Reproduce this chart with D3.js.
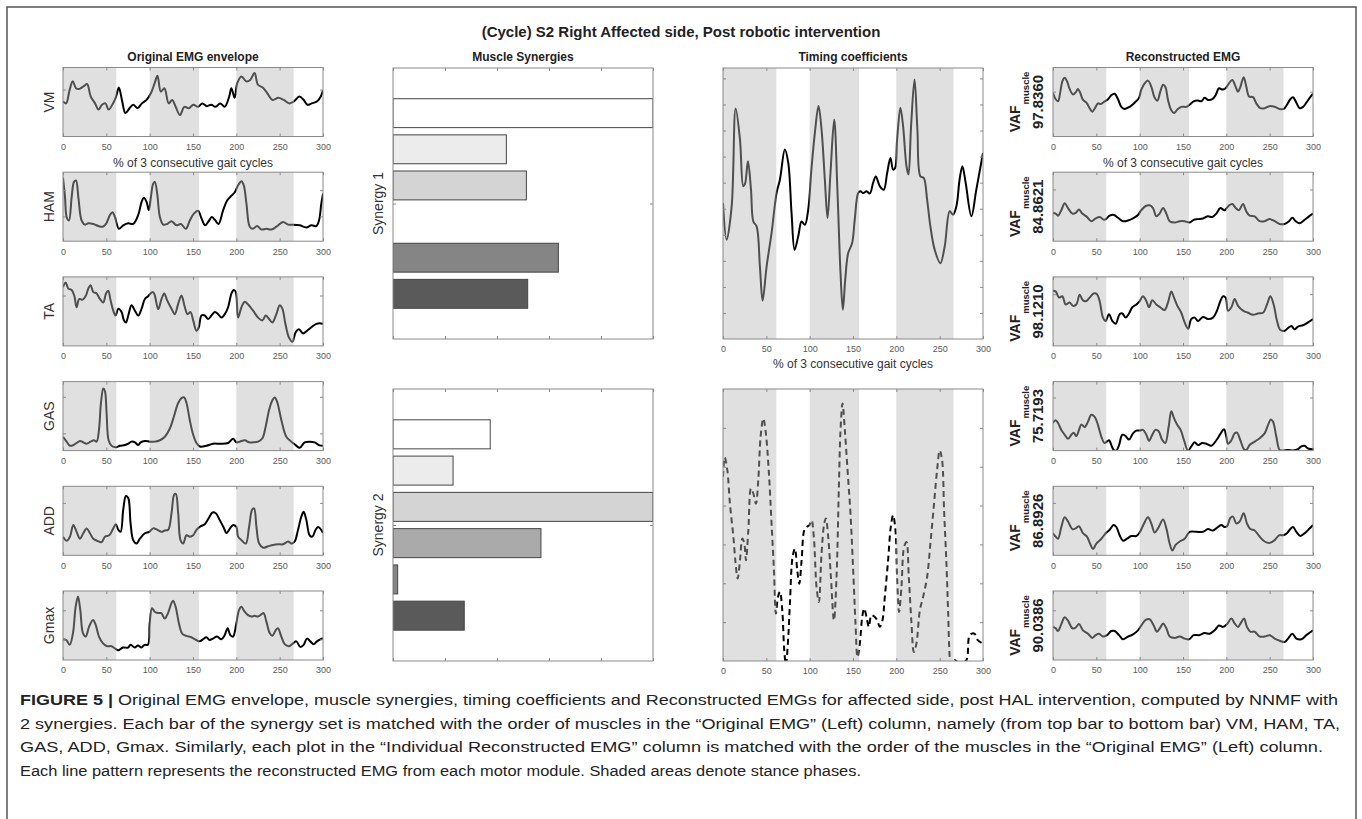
<!DOCTYPE html>
<html><head><meta charset="utf-8">
<script src="https://cdn.jsdelivr.net/npm/d3@7"></script>
<style>body{margin:0;background:#fff}svg{display:block}text{font-family:"Liberation Sans",Arial,sans-serif}</style>
</head><body><svg id="c" width="1362" height="819"></svg>
<script>
// ---------------- DATA ----------------
const mainTitle = "(Cycle) S2 Right Affected side, Post robotic intervention";
const columnTitles = ["Original EMG envelope","Muscle Synergies","Timing coefficients","Reconstructed EMG"];
const xAxisLabel = "% of 3 consecutive gait cycles";
const muscles = ["VM","HAM","TA","GAS","ADD","Gmax"];
const vafValues = ["97.8360","84.8621","98.1210","75.7193","86.8926","90.0386"];
const synergyLabels = ["Synergy 1","Synergy 2"];
const stancePhases = [[0,61.5],[100,157],[200,266]];
const xTicks = [0,50,100,150,200,250,300];
const synergyTicks = [0,0.2,0.4,0.6,0.8,1];
const synergy1 = [1.0,0.436,0.513,0,0.636,0.518];
const synergy2 = [0.374,0.231,1.0,0.569,0.018,0.274];
const barColors = ["#ffffff","#ececec","#d4d4d4","#aaaaaa","#858585","#5a5a5a"];
const origYTicks = [[0.68],[0.36,0.74],[0.73],[0.25,0.78],[0.76],[0.30,0.72]];
const reconYTicks = [[0.65],[0.75],[0.75],[0.77],[0.76],[0.72]];
const timing1Ticks = [1,2,3,4,5,6,7,8,9,10];
const timing2Ticks = [1,2,3,4,5,6];

const vmOriginal = [[0,0.51],[3.6,0.48],[7.7,0.68],[11.3,0.80],[15,0.70],[19,0.69],[24,0.73],[27.8,0.76],[32,0.58],[37,0.48],[41,0.39],[45,0.46],[49,0.48],[52.6,0.39],[57.7,0.48],[61.3,0.58],[64.4,0.71],[68,0.53],[72,0.34],[76.8,0.41],[81,0.46],[86,0.41],[91,0.48],[96.4,0.53],[101.5,0.63],[105.7,0.77],[109,0.88],[112.9,0.65],[117,0.70],[122,0.48],[126,0.53],[130,0.43],[135,0.31],[140,0.43],[145,0.41],[150.5,0.46],[155.7,0.43],[160.8,0.48],[166,0.44],[171,0.46],[176,0.43],[181.4,0.48],[186.6,0.43],[191.8,0.58],[194.3,0.70],[198,0.56],[201,0.77],[206,0.87],[211.3,0.80],[216,0.82],[221,0.92],[225,0.75],[230.4,0.71],[235.6,0.63],[241.8,0.53],[248.5,0.56],[254.6,0.53],[261.3,0.48],[266.5,0.51],[272.7,0.58],[277.8,0.53],[282,0.46],[287,0.48],[293.3,0.51],[297.4,0.58],[300,0.67]];
const hamOriginal = [[0,0.92],[2.3,0.64],[4.2,0.35],[6.9,0.30],[10,0.64],[12.7,0.86],[15,0.88],[17.7,0.64],[21.5,0.30],[25.4,0.24],[29.2,0.26],[35,0.25],[40.7,0.22],[45.7,0.21],[49.6,0.25],[54.2,0.38],[57.2,0.42],[60,0.35],[64.5,0.18],[69.5,0.23],[75.3,0.26],[81,0.25],[86.8,0.38],[90.7,0.57],[93.3,0.63],[96.4,0.57],[99,0.45],[101.4,0.64],[104,0.83],[106,0.86],[108.7,0.69],[111.8,0.35],[115.6,0.24],[120.2,0.25],[125.2,0.29],[131,0.23],[136,0.25],[141.7,0.18],[146.3,0.30],[151,0.40],[156,0.44],[159.8,0.33],[164,0.23],[168.6,0.30],[171.7,0.35],[175.2,0.31],[179.4,0.25],[184.8,0.45],[189.4,0.59],[194.4,0.66],[198.2,0.71],[202,0.81],[205.9,0.87],[208.6,0.81],[211.7,0.54],[215.5,0.21],[219.3,0.18],[223.9,0.22],[228.9,0.17],[234.7,0.18],[240.5,0.17],[246.2,0.21],[253.9,0.28],[259.7,0.24],[265.4,0.24],[273.1,0.23],[280.8,0.20],[286.6,0.23],[292.3,0.22],[295.4,0.30],[298,0.54],[300,0.69]];
const taOriginal = [[0,0.85],[3.1,0.92],[6.1,0.83],[10,0.81],[13,0.73],[15.7,0.56],[18.8,0.68],[22.7,0.67],[26.5,0.73],[29.2,0.83],[31.9,0.88],[35,0.78],[38.8,0.76],[42.6,0.68],[46.5,0.63],[49.6,0.76],[52.2,0.80],[54.9,0.66],[58,0.51],[60.7,0.44],[63.8,0.54],[67.6,0.49],[70.3,0.37],[72.6,0.34],[75.3,0.44],[79.1,0.59],[83,0.51],[86.8,0.44],[90.7,0.54],[94.5,0.68],[98.3,0.72],[101,0.76],[104,0.78],[106,0.73],[109.9,0.53],[113.7,0.68],[116.8,0.76],[120.2,0.66],[125.2,0.54],[129,0.46],[132.9,0.61],[136.7,0.73],[140.6,0.56],[143.7,0.46],[147.1,0.49],[150.2,0.37],[154,0.22],[156.7,0.27],[159.8,0.44],[163.6,0.44],[167.5,0.39],[171.3,0.44],[175.2,0.49],[179,0.46],[182.8,0.41],[186.7,0.46],[190.5,0.56],[194.4,0.76],[197.1,0.81],[199.4,0.78],[202,0.41],[205.9,0.56],[209.7,0.64],[213.6,0.60],[219.3,0.51],[225.1,0.41],[230.1,0.37],[233.9,0.44],[237.8,0.39],[241.6,0.34],[246.2,0.46],[250.1,0.59],[253.1,0.54],[256.6,0.32],[260.8,0.12],[264.7,0.06],[268.5,0.20],[272.3,0.24],[277,0.18],[281.6,0.22],[286.6,0.27],[292.3,0.32],[296.2,0.33],[300,0.32]];
const gasOriginal = [[0,0.20],[4.2,0.13],[8,0.07],[11.9,0.08],[15.7,0.11],[19.6,0.14],[23.4,0.12],[27.3,0.10],[31.9,0.13],[35.7,0.15],[38.8,0.13],[41.5,0.30],[43.8,0.69],[46.5,0.90],[48.4,0.86],[50.3,0.54],[52.6,0.15],[56,0.07],[61.8,0.05],[65.7,0.07],[71.4,0.08],[75.3,0.10],[79.1,0.13],[83,0.12],[86.8,0.08],[89.5,0.12],[94.5,0.14],[100.3,0.13],[106,0.13],[111.8,0.15],[117.5,0.20],[123.3,0.32],[127.9,0.49],[132.9,0.69],[136.7,0.76],[139.8,0.77],[142.5,0.69],[146.3,0.44],[150.2,0.23],[154,0.11],[157.9,0.06],[165.6,0.07],[173.2,0.10],[180.9,0.10],[190.5,0.11],[196.3,0.17],[200.1,0.12],[204,0.13],[209.7,0.15],[214.7,0.12],[219.3,0.12],[225.1,0.13],[230.1,0.18],[233.9,0.35],[237.8,0.59],[241.6,0.73],[244.3,0.77],[247,0.71],[252,0.44],[257.7,0.20],[263.5,0.13],[268.5,0.08],[273.1,0.04],[278.9,0.12],[284.6,0.13],[290.4,0.12],[295.4,0.08],[300,0.07]];
const addOriginal = [[0,0.27],[4.2,0.21],[8,0.27],[11.9,0.44],[15.7,0.34],[19.6,0.24],[23.4,0.32],[27.3,0.39],[31.1,0.32],[35,0.24],[39.6,0.21],[44.6,0.19],[48.4,0.27],[53.4,0.29],[58,0.39],[61,0.45],[63.8,0.37],[66.5,0.34],[69.5,0.66],[72.6,0.86],[75.3,0.83],[78,0.46],[81,0.22],[84.9,0.17],[88.7,0.24],[94.5,0.32],[99.5,0.34],[104,0.39],[108.7,0.37],[113.7,0.34],[117.5,0.36],[121.4,0.37],[125.2,0.61],[128.3,0.88],[130.2,0.89],[132.9,0.61],[135.6,0.22],[138.7,0.17],[142.5,0.29],[146.3,0.27],[150.2,0.29],[154,0.37],[158.6,0.42],[163.6,0.45],[168.2,0.54],[172.5,0.62],[176.3,0.61],[180.9,0.51],[185.5,0.40],[188.6,0.32],[191.7,0.37],[196.3,0.44],[200.1,0.41],[202,0.27],[205.9,0.22],[210.9,0.17],[214.7,0.41],[218.2,0.66],[220.5,0.68],[223.2,0.41],[226.3,0.17],[230.9,0.11],[236.6,0.13],[242.4,0.15],[248.1,0.16],[253.9,0.16],[259.7,0.20],[263.5,0.17],[267.3,0.20],[271.2,0.37],[275,0.56],[277.7,0.63],[280.8,0.51],[284.6,0.29],[287.7,0.27],[291.5,0.37],[294.2,0.41],[298,0.37],[300,0.32]];
const gmaxOriginal = [[0,0.30],[3.8,0.29],[7.7,0.22],[11.5,0.39],[14.6,0.77],[17.3,0.92],[20,0.72],[23,0.39],[26.2,0.34],[30,0.48],[34.6,0.58],[37.7,0.51],[41.5,0.34],[46.2,0.24],[50.8,0.20],[55.8,0.20],[59.6,0.17],[63.5,0.14],[69.2,0.18],[75,0.18],[78,0.22],[82.7,0.18],[86.5,0.21],[90.4,0.18],[94.2,0.22],[98,0.22],[100,0.53],[102.7,0.75],[105.8,0.70],[109.6,0.68],[113.5,0.68],[117.3,0.60],[121.2,0.68],[125,0.82],[127,0.86],[130,0.77],[133.8,0.53],[137.7,0.38],[142.3,0.35],[148,0.33],[153.8,0.29],[157.7,0.27],[161.5,0.30],[165.4,0.33],[169.2,0.29],[173,0.31],[177.7,0.34],[182.7,0.30],[186.5,0.36],[190,0.46],[193,0.36],[196.2,0.34],[200,0.53],[203,0.72],[205.8,0.77],[209.6,0.70],[213.5,0.65],[217.3,0.63],[221.2,0.64],[225,0.63],[228.8,0.66],[231.5,0.68],[234.6,0.56],[238.5,0.39],[241.5,0.35],[245.4,0.43],[248,0.46],[251.9,0.34],[255.8,0.23],[260.8,0.20],[265.4,0.24],[269.2,0.27],[273.8,0.19],[277.7,0.22],[281.5,0.31],[285.4,0.27],[289.2,0.23],[293,0.27],[296.9,0.30],[300,0.31]];

const vmRecon = [[0,0.63],[3.1,0.54],[5.8,0.51],[8.5,0.65],[10.8,0.80],[13.5,0.85],[16.2,0.80],[19.2,0.69],[23.1,0.61],[26.2,0.64],[28.8,0.69],[31.5,0.63],[34.6,0.53],[38.5,0.49],[42.3,0.41],[45.4,0.36],[49.2,0.43],[51.9,0.48],[55,0.47],[59.6,0.51],[63.5,0.54],[67.3,0.60],[71.2,0.62],[75,0.54],[78.8,0.43],[82.7,0.40],[88.5,0.43],[94.2,0.49],[99.2,0.56],[101.9,0.68],[105.8,0.77],[109.6,0.81],[113.5,0.72],[117.3,0.56],[120.4,0.52],[123.8,0.65],[127,0.75],[129.6,0.72],[132.7,0.53],[136.5,0.38],[139.6,0.34],[143.5,0.39],[148,0.43],[153.8,0.43],[157.7,0.46],[162.3,0.51],[167.3,0.52],[171.2,0.51],[175,0.56],[178.8,0.53],[183.8,0.54],[187.7,0.60],[191.5,0.70],[195.4,0.68],[199.2,0.70],[203,0.77],[206.9,0.82],[210.4,0.73],[213.5,0.65],[216.2,0.72],[220,0.86],[223.1,0.72],[226.2,0.58],[230.8,0.57],[234.6,0.48],[239.2,0.41],[244.2,0.41],[250,0.44],[255.8,0.43],[261.5,0.40],[266.2,0.40],[270,0.46],[273.8,0.54],[276.9,0.57],[280.8,0.49],[284.6,0.41],[288.5,0.43],[292.3,0.49],[296.2,0.56],[300,0.62]];
const hamRecon = [[0,0.41],[3.1,0.40],[5.8,0.37],[9.6,0.45],[13.5,0.55],[17.3,0.48],[22.3,0.40],[26.2,0.41],[30,0.46],[33.8,0.40],[38.5,0.36],[44.2,0.29],[49.2,0.33],[53.8,0.35],[59.6,0.31],[65.4,0.37],[70.4,0.38],[75,0.34],[80.8,0.29],[86.5,0.30],[92.3,0.33],[98,0.38],[101.9,0.45],[106.9,0.51],[111.5,0.52],[115.4,0.48],[119.2,0.36],[123,0.40],[127,0.48],[130.8,0.40],[134.6,0.29],[140.4,0.27],[146.2,0.29],[151.9,0.29],[157.7,0.27],[162.3,0.31],[167.3,0.32],[173,0.33],[178.8,0.36],[183.8,0.35],[188.5,0.40],[193.1,0.48],[198,0.45],[203.1,0.52],[206.9,0.54],[210.8,0.48],[214.6,0.45],[219.2,0.54],[223.1,0.43],[226.9,0.37],[232.7,0.36],[238.5,0.29],[244.2,0.29],[250,0.32],[255.8,0.29],[261.5,0.25],[267.3,0.25],[272.3,0.29],[276.2,0.34],[280,0.29],[284.6,0.26],[290.4,0.31],[295.4,0.36],[300,0.40]];
const taRecon = [[0,0.80],[3.1,0.79],[6.9,0.70],[10.8,0.72],[14.6,0.60],[19.2,0.63],[23.1,0.58],[26.9,0.60],[30.8,0.74],[34.6,0.66],[38.5,0.65],[42.3,0.70],[46.9,0.76],[50.8,0.75],[53.8,0.65],[57.7,0.41],[60.8,0.36],[64.6,0.46],[68.5,0.36],[72.3,0.32],[76.9,0.46],[80,0.47],[83.8,0.41],[87.7,0.47],[91.5,0.56],[96.2,0.60],[100,0.65],[103.8,0.72],[107.7,0.65],[110.8,0.56],[114.6,0.66],[119.2,0.60],[123.8,0.56],[128.8,0.52],[132.7,0.63],[136.5,0.79],[139.6,0.70],[143.5,0.58],[148,0.48],[151.9,0.34],[155.8,0.25],[159.6,0.39],[163.5,0.41],[167.3,0.36],[173,0.42],[178.8,0.39],[184.6,0.41],[189.2,0.51],[193.1,0.65],[196.2,0.72],[199.2,0.70],[201.9,0.51],[205.8,0.56],[209.6,0.68],[213.5,0.58],[219.2,0.51],[225,0.48],[230.8,0.45],[236.5,0.47],[242.3,0.48],[246.9,0.60],[250.8,0.72],[254.6,0.60],[258.5,0.36],[262.3,0.23],[267.3,0.22],[271.2,0.26],[275,0.29],[278.8,0.24],[282.7,0.28],[288.5,0.30],[294.2,0.34],[300,0.39]];
const gasRecon = [[0,0.40],[3.1,0.44],[5.8,0.40],[9.6,0.30],[13.5,0.23],[17.3,0.17],[21.2,0.23],[23.8,0.26],[26.9,0.21],[30,0.30],[32.7,0.38],[36.5,0.34],[40.4,0.42],[44.2,0.52],[48.1,0.49],[51.9,0.37],[55.8,0.20],[59.6,0.11],[64.6,0.15],[67.3,0.08],[70,0.01],[73.1,0],[76.2,0.08],[80,0.23],[83.8,0.21],[87.7,0.16],[92.3,0.25],[96.2,0.29],[100,0.29],[103.8,0.30],[107.7,0.23],[110.8,0.14],[114.6,0.23],[118.1,0.30],[121.9,0.28],[125.8,0.16],[129.6,0.11],[133.5,0.35],[136.5,0.57],[139.6,0.47],[143.5,0.37],[147.3,0.30],[151.2,0.15],[155.8,0],[159.6,0.06],[163.5,0.12],[167.3,0.08],[172.3,0.11],[176.9,0.10],[182.7,0.07],[188.5,0.15],[193.5,0.25],[197.3,0.31],[200,0.20],[201.9,0.10],[205.8,0.15],[209.6,0.25],[212.3,0.26],[216.2,0.15],[220.4,0.02],[223.1,0.01],[226.9,0.08],[232.7,0.13],[238.5,0.18],[244.2,0.25],[248.1,0.37],[251.2,0.45],[253.8,0.42],[257.7,0.20],[261.5,0.01],[265.4,0],[271.2,0.01],[276.9,0],[282.7,0.02],[286.5,0.06],[290.4,0.07],[294.2,0.03],[300,0.02]];
const addRecon = [[0,0.32],[3.1,0.27],[5.8,0.24],[9.6,0.41],[13.5,0.55],[17.3,0.49],[22.3,0.38],[26.2,0.39],[30,0.42],[34.6,0.32],[39.2,0.27],[43.1,0.16],[46.2,0.09],[50,0.17],[55.8,0.24],[60.8,0.32],[65.4,0.37],[70,0.44],[73.1,0.41],[76.9,0.29],[80.8,0.21],[85.4,0.24],[90.4,0.28],[96.2,0.28],[100,0.33],[104.6,0.45],[109.6,0.55],[113.5,0.46],[117.3,0.33],[121.2,0.39],[127,0.52],[130.8,0.39],[134.6,0.17],[137.7,0.07],[141.5,0.15],[146.2,0.20],[151.9,0.24],[157.7,0.34],[165.4,0.34],[173,0.34],[178.8,0.38],[184.6,0.36],[190.4,0.41],[194.2,0.44],[198,0.41],[200.8,0.42],[204.6,0.54],[207.7,0.56],[211.5,0.46],[215.4,0.49],[220,0.61],[223.8,0.46],[227.7,0.38],[232.7,0.36],[238.5,0.27],[244.2,0.20],[250,0.18],[255.8,0.22],[260.8,0.29],[265.4,0.29],[270,0.32],[273.8,0.38],[276.9,0.41],[280.8,0.34],[285.4,0.28],[290.4,0.32],[295.4,0.38],[300,0.44]];
const gmaxRecon = [[0,0.48],[3.1,0.46],[5.8,0.42],[9.6,0.52],[13.5,0.62],[17.3,0.57],[22.3,0.46],[26.2,0.47],[30,0.52],[34.6,0.43],[40.4,0.38],[45.4,0.32],[49.2,0.36],[53.1,0.38],[57.7,0.34],[62.3,0.36],[67.3,0.42],[71.2,0.42],[76.2,0.36],[80.8,0.30],[86.5,0.34],[92.3,0.37],[98,0.43],[101.9,0.50],[106.9,0.58],[111.5,0.59],[116.2,0.50],[120,0.41],[123.8,0.47],[127,0.53],[130.8,0.46],[134.6,0.34],[140.4,0.32],[146.2,0.34],[151.9,0.31],[156.9,0.30],[162.3,0.36],[168.5,0.36],[175,0.39],[180.8,0.38],[186.5,0.43],[191.5,0.50],[196.2,0.48],[200.8,0.52],[205.8,0.60],[209.6,0.53],[213.5,0.48],[217.3,0.55],[220.4,0.60],[223.8,0.48],[227.7,0.41],[232.7,0.41],[238.5,0.34],[244.2,0.34],[250,0.36],[255.8,0.31],[261.5,0.28],[267.3,0.26],[271.2,0.31],[276.2,0.38],[280.8,0.31],[286.5,0.30],[292.3,0.36],[300,0.43]];

const timing1 = [[0,5.22],[4.2,3.81],[10,5.09],[14.6,8.85],[19.6,7.65],[23.4,5.86],[25.4,5.95],[28.8,6.82],[32.3,5.73],[35,4.51],[38.8,4.32],[42.6,2.78],[45.7,1.47],[50.3,2.78],[56,4.06],[61.8,5.6],[65.7,6.12],[71.4,7.27],[75.3,6.76],[79.1,4.83],[82.6,3.42],[86.8,3.94],[90.7,4.51],[94.5,4.38],[98.3,4.96],[102,6.5],[106,7.91],[110.2,8.94],[113.7,8.04],[117.5,6.12],[120.6,4.64],[124,6.37],[128.3,8.42],[132,5.73],[135.6,2.53],[138.3,1.12],[141,2.27],[144.4,3.29],[149,3.68],[152,4.58],[156,5.6],[158.6,5.67],[161.7,5.6],[165.6,5.67],[169.4,5.58],[173.2,5.99],[176.3,6.24],[181,5.86],[185.5,5.73],[189.4,6.37],[193.2,6.95],[196.3,6.5],[198.6,6.56],[200.9,7.65],[204.7,8.87],[207.8,8.17],[211.7,6.63],[214,6.31],[217,8.17],[221,9.96],[224.3,8.04],[227.8,6.24],[231.6,6.18],[235.5,5.35],[239.3,4.32],[244.3,3.42],[250.8,2.91],[255.8,3.55],[261.6,4.9],[265.4,4.77],[269.3,5.09],[273,6.12],[276.2,6.63],[280,5.99],[286.6,4.71],[292.3,5.73],[300,7.14]];
const timing2 = [[0,4.74],[2,5.24],[5,4.91],[8,4.05],[12,3.19],[14.6,2.5],[16.9,2.12],[19.6,2.59],[22.3,3.15],[24.6,3.02],[26.5,2.59],[29.2,3.36],[32.3,4.44],[35,4.31],[38,4.05],[40.7,4.65],[43.4,5.77],[46.5,6.24],[49.5,5.85],[53,4.82],[56,3.54],[58.8,2.33],[61,1.22],[63.4,1.65],[65.7,1.78],[68.4,1.3],[70.7,0.27],[72.6,-0.1],[75.3,0.62],[77.2,1.48],[80.3,2.68],[83,2.89],[85.7,2.33],[88,1.99],[90.7,2.59],[93.7,3.36],[96.4,3.45],[99.5,3.49],[102.2,3.62],[104.8,3.19],[107.9,1.91],[110.6,1.52],[113.7,2.76],[116.8,3.54],[118.7,3.67],[121.4,3.19],[124.5,2.16],[128,1.05],[131,2.16],[133.7,4.48],[135.6,5.94],[137.9,6.63],[140.6,5.94],[143.7,4.91],[147.1,3.79],[150.2,2.33],[152.9,0.96],[155.2,0.1],[157.9,0.45],[160.6,1.13],[162.9,1.35],[165.6,1.13],[168.3,0.88],[171.3,1.18],[175.2,1.13],[177.9,1.05],[181,0.88],[184,1.05],[186.7,1.65],[190.5,2.59],[193.6,3.45],[196.3,3.75],[199,3.36],[200.9,2.16],[203.2,1.26],[205.9,1.91],[209,2.94],[211.7,3.06],[214.4,2.16],[217.5,0.96],[220.2,0.23],[223.2,0.45],[227.1,1.3],[230.9,1.65],[235.5,2.16],[239.3,3.02],[243.5,4.05],[247,4.91],[250.1,5.42],[252.8,5.17],[255.1,3.88],[257.8,2.51],[259.7,1.3],[261.6,0.1],[263.5,-0.24],[267.4,0.02],[271.2,-0.03],[275,-0.05],[280.8,0.02],[283.9,0.62],[286.6,0.7],[290.4,0.7],[294.2,0.53],[300,0.45]];

const originalSeries = [vmOriginal,hamOriginal,taOriginal,gasOriginal,addOriginal,gmaxOriginal];
const reconSeries = [vmRecon,hamRecon,taRecon,gasRecon,addRecon,gmaxRecon];

const captionLines = [
  [["FIGURE 5 |",true],[" Original EMG envelope, muscle synergies, timing coefficients and Reconstructed EMGs for affected side, post HAL intervention, computed by NNMF with",false]],
  [["2 synergies. Each bar of the synergy set is matched with the order of muscles in the \u201cOriginal EMG\u201d (Left) column, namely (from top bar to bottom bar) VM, HAM, TA,",false]],
  [["GAS, ADD, Gmax. Similarly, each plot in the \u201cIndividual Reconstructed EMG\u201d column is matched with the order of the muscles in the \u201cOriginal EMG\u201d (Left) column.",false]],
  [["Each line pattern represents the reconstructed EMG from each motor module. Shaded areas denote stance phases.",false]]
];

// ---------------- LAYOUT ----------------
const svg = d3.select("#c");
const FONT = "'Liberation Sans',Arial,sans-serif";
const colX = [63, 393, 723, 1053];
const panelW = 260;
const rowH = 69;
const rowTop = i => 67.5 + i * 104.7;
const bigTop = [68, 389], bigH = [271, 272];
const AXIS = "#8a8a8a";
const xScale = d3.scaleLinear().domain([0, 300]).range([0, panelW]);

svg.append("rect").attr("x",7).attr("y",7).attr("width",1349).attr("height",840)
  .attr("fill","none").attr("stroke","#555").attr("stroke-width",1.5);

let clipN = 0;
function makeClips(g, h) {
  const id = clipN++;
  const defs = g.append("defs");
  defs.append("clipPath").attr("id","bx"+id).append("rect").attr("width",panelW).attr("height",h);
  const st = defs.append("clipPath").attr("id","st"+id);
  stancePhases.forEach(p => st.append("rect").attr("x",xScale(p[0])).attr("width",xScale(p[1])-xScale(p[0])).attr("y",-5).attr("height",h+10));
  const sw = defs.append("clipPath").attr("id","sw"+id);
  stancePhases.forEach((p,i) => {
    const end = i + 1 < stancePhases.length ? stancePhases[i+1][0] : 300;
    sw.append("rect").attr("x",xScale(p[1])).attr("width",xScale(end)-xScale(p[1])).attr("y",-5).attr("height",h+10);
  });
  return id;
}

function styleAxis(ax) {
  ax.select(".domain").remove();
  ax.selectAll("line").attr("stroke", AXIS);
  ax.attr("font-family", FONT).attr("font-size", 9);
  ax.selectAll("text").attr("fill", "#5a5a5a");
}

function linePanel(x0, y0, h, data, yDomain, yTicks, dash) {
  const g = svg.append("g").attr("transform", `translate(${x0},${y0})`);
  const y = d3.scaleLinear().domain(yDomain).range([h, 0]);
  g.selectAll("rect.shade").data(stancePhases).join("rect").attr("class","shade")
    .attr("x", d => xScale(d[0])).attr("width", d => xScale(d[1]) - xScale(d[0]))
    .attr("y", 0).attr("height", h).attr("fill", "#e0e0e0");
  const id = makeClips(g, h);
  const line = d3.line().x(d => xScale(d[0])).y(d => y(d[1])).curve(d3.curveCatmullRom.alpha(0.5));
  const lg = g.append("g").attr("clip-path", `url(#bx${id})`);
  [["st", "#4f4f4f"], ["sw", "#000"]].forEach(([k, col]) => {
    lg.append("g").attr("clip-path", `url(#${k}${id})`).append("path")
      .attr("d", line(data)).attr("fill", "none").attr("stroke", col)
      .attr("stroke-width", 2).attr("stroke-linejoin","round")
      .attr("stroke-dasharray", dash || null);
  });
  g.append("rect").attr("width", panelW).attr("height", h).attr("fill", "none").attr("stroke", AXIS).attr("stroke-width", 1);
  const ab = g.append("g").attr("transform", `translate(0,${h})`)
    .call(d3.axisBottom(xScale).tickValues(xTicks).tickSize(-3).tickPadding(7));
  styleAxis(ab);
  const at = g.append("g").call(d3.axisTop(xScale).tickValues(xTicks).tickSize(-3).tickFormat(""));
  styleAxis(at);
  const al = g.append("g").call(d3.axisLeft(y).tickValues(yTicks).tickSize(-3).tickFormat(""));
  styleAxis(al);
  const ar = g.append("g").attr("transform", `translate(${panelW},0)`).call(d3.axisRight(y).tickValues(yTicks).tickSize(-3).tickFormat(""));
  styleAxis(ar);
  return g;
}

function synergyPanel(x0, y0, h, values, label) {
  const g = svg.append("g").attr("transform", `translate(${x0},${y0})`);
  const x = d3.scaleLinear().domain([0, 1]).range([0, panelW]);
  const y = d3.scaleBand().domain(muscles).range([0, h]).paddingInner(0.2).paddingOuter(0.85);
  const id = clipN++;
  g.append("defs").append("clipPath").attr("id", "sy" + id).append("rect").attr("width", panelW).attr("height", h);
  g.append("g").attr("clip-path", `url(#sy${id})`).selectAll("rect").data(values).join("rect")
    .attr("x", 0).attr("y", (d, i) => y(muscles[i])).attr("height", y.bandwidth())
    .attr("width", d => x(d)).attr("fill", (d, i) => barColors[i])
    .attr("stroke", d => d > 0 ? "#454545" : "none").attr("stroke-width", 1);
  g.append("rect").attr("width", panelW).attr("height", h).attr("fill", "none").attr("stroke", AXIS);
  const ab = g.append("g").attr("transform", `translate(0,${h})`).call(d3.axisBottom(x).tickValues(synergyTicks).tickSize(-3).tickFormat(""));
  styleAxis(ab);
  const at = g.append("g").call(d3.axisTop(x).tickValues(synergyTicks).tickSize(-3).tickFormat(""));
  styleAxis(at);
  const yl = d3.scaleLinear().domain([0, 1]).range([h, 0]);
  styleAxis(g.append("g").call(d3.axisLeft(yl).tickValues([0.5]).tickSize(-3).tickFormat("")));
  styleAxis(g.append("g").attr("transform", `translate(${panelW},0)`).call(d3.axisRight(yl).tickValues([0.5]).tickSize(-3).tickFormat("")));
  g.append("text").attr("transform", `translate(-10,${h / 2}) rotate(-90)`)
    .attr("text-anchor", "middle").attr("font-size", 14).attr("fill", "#333").text(label);
}

// ---------------- TITLES ----------------
svg.append("text").attr("x", 681).attr("y", 37).attr("text-anchor", "middle")
  .attr("font-size", 15).attr("font-weight", "bold").attr("fill", "#222").text(mainTitle);
columnTitles.forEach((t, i) => {
  svg.append("text").attr("x", colX[i] + panelW / 2).attr("y", 61).attr("text-anchor", "middle")
    .attr("font-size", 12).attr("font-weight", "bold").attr("fill", "#222").text(t);
});

// ---------------- COLUMN 1: original ----------------
originalSeries.forEach((s, i) => {
  const g = linePanel(colX[0], rowTop(i), rowH, s, [0, 1], origYTicks[i]);
  g.append("text").attr("transform", `translate(-9,${rowH / 2}) rotate(-90)`)
    .attr("text-anchor", "middle").attr("font-size", 14).attr("fill", "#333").text(muscles[i]);
});
svg.append("text").attr("x", colX[0] + panelW / 2).attr("y", rowTop(0) + rowH + 30)
  .attr("text-anchor", "middle").attr("font-size", 12).attr("fill", "#333").text(xAxisLabel);

// ---------------- COLUMN 2: synergies ----------------
synergyPanel(colX[1], bigTop[0], bigH[0], synergy1, synergyLabels[0]);
synergyPanel(colX[1], bigTop[1], bigH[1], synergy2, synergyLabels[1]);

// ---------------- COLUMN 3: timing ----------------
linePanel(colX[2], bigTop[0], bigH[0], timing1, [0, 10.4], timing1Ticks);
linePanel(colX[2], bigTop[1], bigH[1], timing2, [0, 7], timing2Ticks, "6,4");
svg.append("text").attr("x", colX[2] + panelW / 2).attr("y", bigTop[0] + bigH[0] + 29)
  .attr("text-anchor", "middle").attr("font-size", 12).attr("fill", "#333").text(xAxisLabel);

// ---------------- COLUMN 4: reconstructed ----------------
reconSeries.forEach((s, i) => {
  const g = linePanel(colX[3], rowTop(i), rowH, s, [0, 1], reconYTicks[i]);
  const t = g.append("text").attr("transform", `translate(-33,${rowH / 2}) rotate(-90)`)
    .attr("text-anchor", "middle").attr("font-weight", "bold").attr("fill", "#222");
  t.append("tspan").attr("font-size", 14).text("VAF");
  t.append("tspan").attr("font-size", 9.5).attr("dy", 9).attr("dx", 1).text("muscle");
  g.append("text").attr("transform", `translate(-10,${rowH / 2}) rotate(-90)`)
    .attr("text-anchor", "middle").attr("font-weight", "bold").attr("font-size", 15)
    .attr("fill", "#222").text(vafValues[i]);
});
svg.append("text").attr("x", colX[3] + panelW / 2).attr("y", rowTop(0) + rowH + 30)
  .attr("text-anchor", "middle").attr("font-size", 12).attr("fill", "#333").text(xAxisLabel);

// ---------------- CAPTION ----------------
const capEnds = [1338, 1340, 1323, 861];
captionLines.forEach((parts, i) => {
  const t = svg.append("text").attr("x", 20).attr("y", 705 + i * 23.7)
    .attr("font-size", 15.5).attr("fill", "#222")
    .attr("textLength", capEnds[i] - 20).attr("lengthAdjust", "spacingAndGlyphs");
  parts.forEach(([s, b]) => t.append("tspan").attr("font-weight", b ? "bold" : "normal").text(s));
});
</script></body></html>
